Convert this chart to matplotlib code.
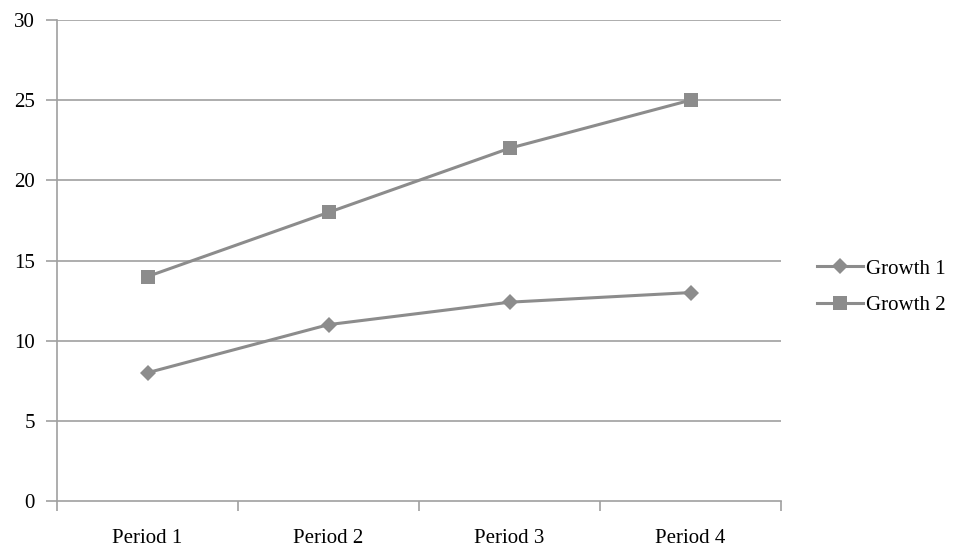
import matplotlib
matplotlib.use("Agg")
import matplotlib.pyplot as plt
import numpy as np

categories = ["Period 1", "Period 2", "Period 3", "Period 4"]
growth1 = [8, 11, 12.4, 13]
growth2 = [14, 18, 22, 25]
yticks = [0, 5, 10, 15, 20, 25, 30]

plt.rcParams['font.family'] = ['Liberation Serif', 'DejaVu Serif']

fig = plt.figure(figsize=(9.55, 5.46), dpi=100)
ax = fig.add_axes([57/955, 45/546, (781-57)/955, (501-20)/546])

grid_c = '#a0a0a0'
line_c = '#8c8c8c'
x = np.arange(len(categories))

for yv in yticks[1:]:
    ax.axhline(yv, color=grid_c, lw=1.2, zorder=1)

l1, = ax.plot(x, growth1, color=line_c, lw=2.2, marker='D', markersize=8,
              markeredgewidth=0, zorder=3, label='Growth 1')
l2, = ax.plot(x, growth2, color=line_c, lw=2.2, marker='s', markersize=9.5,
              markeredgewidth=0, zorder=3, label='Growth 2')

ax.set_xlim(-0.5, len(categories) - 0.5)
ax.set_ylim(0, 30)
ax.set_yticks(yticks)
ax.set_yticklabels([str(v) for v in yticks], fontsize=15)
ax.set_xticks(np.arange(-0.5, len(categories), 1.0))
ax.set_xticklabels([])
ax.set_xticks(x, minor=True)
ax.set_xticklabels(categories, minor=True, fontsize=15)
ax.tick_params(axis='x', which='minor', length=0, pad=20)
ax.tick_params(axis='x', which='major', length=7, width=1.2, color=grid_c)
ax.tick_params(axis='y', length=8, width=1.2, color=grid_c, pad=8)

for s in ['top', 'right']:
    ax.spines[s].set_visible(False)
for s in ['left', 'bottom']:
    ax.spines[s].set_color(grid_c)
    ax.spines[s].set_linewidth(1.2)

fig.legend(handles=[l1, l2], loc='center left', bbox_to_anchor=(798/955, 1 - 287/546),
           frameon=False, fontsize=15, handlelength=2.2, handletextpad=0.15,
           labelspacing=0.8)

fig.savefig("out.png", dpi=100)
